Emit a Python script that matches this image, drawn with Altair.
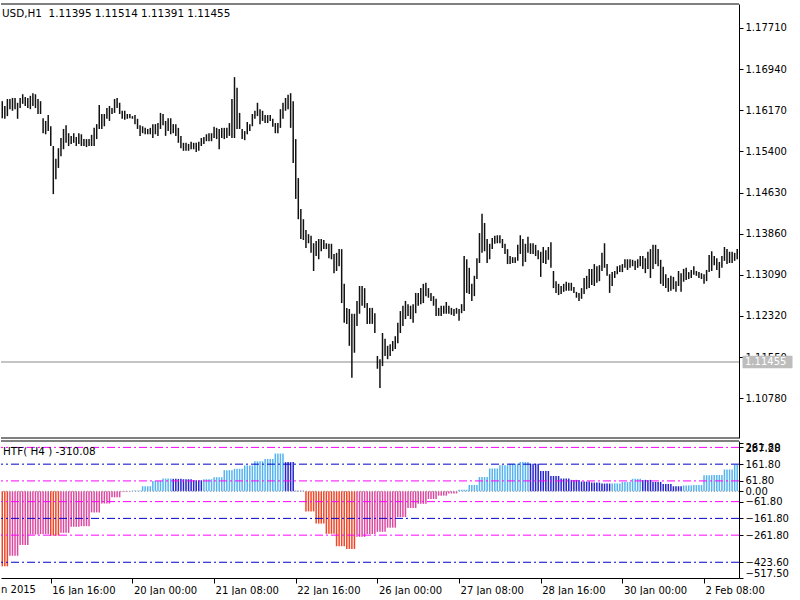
import altair as alt
import pandas as pd

# ---------------- data ----------------
bar_high = [
 1.1634,1.1625,1.1638,1.1638,1.1640,1.1640,1.1631,1.1640,1.1647,1.1642,
 1.1640,1.1644,1.1649,1.1647,1.1638,1.1634,1.1602,1.1597,1.1608,1.1587,
 1.1550,1.1526,1.1546,1.1565,1.1582,1.1589,1.1574,1.1569,1.1574,1.1567,
 1.1574,1.1572,1.1563,1.1563,1.1563,1.1571,1.1584,1.1591,1.1627,1.1610,
 1.1610,1.1621,1.1625,1.1621,1.1638,1.1640,1.1631,1.1616,1.1616,1.1610,
 1.1610,1.1606,1.1608,1.1601,1.1589,1.1587,1.1584,1.1582,1.1584,1.1591,
 1.1591,1.1593,1.1612,1.1610,1.1597,1.1602,1.1602,1.1591,1.1591,1.1584,
 1.1569,1.1556,1.1556,1.1554,1.1558,1.1556,1.1556,1.1558,1.1565,1.1567,
 1.1572,1.1574,1.1574,1.1586,1.1584,1.1582,1.1584,1.1584,1.1584,1.1593,
 1.1638,1.1679,1.1659,1.1612,1.1582,1.1578,1.1595,1.1591,1.1610,1.1616,
 1.1631,1.1619,1.1616,1.1608,1.1608,1.1608,1.1601,1.1593,1.1593,1.1619,
 1.1631,1.1640,1.1646,1.1649,1.1634,1.1563,1.1490,1.1432,1.1413,1.1393,
 1.1385,1.1382,1.1368,1.1372,1.1376,1.1376,1.1374,1.1368,1.1367,1.1367,
 1.1348,1.1350,1.1357,1.1357,1.1292,1.1247,1.1245,1.1236,1.1236,1.1260,
 1.1288,1.1288,1.1284,1.1256,1.1247,1.1247,1.1237,1.1157,1.1151,1.1200,
 1.1189,1.1176,1.1179,1.1185,1.1194,1.1219,1.1241,1.1251,1.1260,1.1254,
 1.1251,1.1254,1.1275,1.1275,1.1284,1.1292,1.1294,1.1284,1.1275,1.1269,
 1.1264,1.1247,1.1251,1.1251,1.1258,1.1251,1.1247,1.1245,1.1247,1.1245,
 1.1254,1.1344,1.1338,1.1322,1.1292,1.1307,1.1340,1.1387,1.1423,1.1406,
 1.1376,1.1367,1.1378,1.1382,1.1383,1.1383,1.1376,1.1367,1.1357,1.1344,
 1.1342,1.1342,1.1365,1.1383,1.1376,1.1367,1.1380,1.1368,1.1368,1.1365,
 1.1355,1.1352,1.1361,1.1355,1.1361,1.1370,1.1316,1.1297,1.1292,1.1288,
 1.1292,1.1296,1.1294,1.1294,1.1286,1.1277,1.1275,1.1284,1.1303,1.1307,
 1.1320,1.1320,1.1329,1.1325,1.1327,1.1350,1.1368,1.1329,1.1310,1.1314,
 1.1316,1.1325,1.1327,1.1329,1.1338,1.1338,1.1338,1.1337,1.1335,1.1338,
 1.1344,1.1344,1.1340,1.1352,1.1357,1.1365,1.1365,1.1357,1.1337,1.1324,
 1.1310,1.1303,1.1307,1.1305,1.1297,1.1316,1.1312,1.1320,1.1322,1.1314,
 1.1318,1.1325,1.1316,1.1314,1.1312,1.1310,1.1318,1.1346,1.1353,1.1344,
 1.1340,1.1333,1.1344,1.1361,1.1357,1.1352,1.1352,1.1350,1.1357]

bar_low = [
 1.1602,1.1601,1.1606,1.1619,1.1616,1.1619,1.1601,1.1621,1.1629,1.1625,
 1.1621,1.1619,1.1625,1.1621,1.1610,1.1610,1.1574,1.1572,1.1578,1.1550,
 1.1460,1.1488,1.1509,1.1531,1.1544,1.1556,1.1550,1.1554,1.1556,1.1550,
 1.1554,1.1550,1.1550,1.1548,1.1550,1.1550,1.1550,1.1563,1.1582,1.1582,
 1.1587,1.1601,1.1597,1.1610,1.1612,1.1621,1.1610,1.1601,1.1599,1.1601,
 1.1602,1.1601,1.1591,1.1582,1.1569,1.1574,1.1572,1.1572,1.1572,1.1565,
 1.1572,1.1569,1.1582,1.1589,1.1569,1.1578,1.1572,1.1574,1.1569,1.1556,
 1.1546,1.1541,1.1541,1.1541,1.1544,1.1544,1.1539,1.1541,1.1550,1.1554,
 1.1559,1.1559,1.1559,1.1565,1.1563,1.1544,1.1565,1.1563,1.1565,1.1569,
 1.1565,1.1565,1.1582,1.1582,1.1563,1.1561,1.1572,1.1578,1.1587,1.1601,
 1.1606,1.1591,1.1597,1.1593,1.1593,1.1597,1.1586,1.1574,1.1574,1.1584,
 1.1601,1.1616,1.1619,1.1584,1.1518,1.1451,1.1413,1.1376,1.1374,1.1359,
 1.1368,1.1350,1.1316,1.1344,1.1338,1.1353,1.1357,1.1357,1.1340,1.1338,
 1.1312,1.1316,1.1325,1.1256,1.1219,1.1217,1.1176,1.1116,1.1163,1.1213,
 1.1236,1.1251,1.1247,1.1217,1.1217,1.1217,1.1200,1.1133,1.1097,1.1138,
 1.1157,1.1151,1.1157,1.1166,1.1170,1.1181,1.1200,1.1213,1.1226,1.1232,
 1.1226,1.1219,1.1237,1.1251,1.1254,1.1256,1.1269,1.1266,1.1260,1.1251,
 1.1232,1.1232,1.1232,1.1236,1.1236,1.1236,1.1234,1.1232,1.1236,1.1223,
 1.1237,1.1241,1.1275,1.1273,1.1260,1.1269,1.1301,1.1331,1.1350,1.1353,
 1.1331,1.1338,1.1357,1.1367,1.1368,1.1368,1.1359,1.1348,1.1329,1.1329,
 1.1331,1.1331,1.1335,1.1348,1.1325,1.1333,1.1350,1.1348,1.1348,1.1344,
 1.1338,1.1305,1.1331,1.1329,1.1337,1.1322,1.1284,1.1275,1.1271,1.1273,
 1.1277,1.1279,1.1279,1.1279,1.1275,1.1266,1.1260,1.1264,1.1273,1.1282,
 1.1284,1.1290,1.1288,1.1294,1.1297,1.1316,1.1322,1.1307,1.1275,1.1288,
 1.1303,1.1310,1.1314,1.1314,1.1322,1.1318,1.1322,1.1325,1.1318,1.1322,
 1.1325,1.1320,1.1312,1.1320,1.1303,1.1320,1.1329,1.1325,1.1292,1.1288,
 1.1284,1.1277,1.1279,1.1282,1.1277,1.1288,1.1277,1.1296,1.1299,1.1301,
 1.1303,1.1309,1.1307,1.1303,1.1301,1.1292,1.1297,1.1314,1.1316,1.1327,
 1.1318,1.1303,1.1322,1.1335,1.1329,1.1331,1.1331,1.1335,1.1338]

# HTF(H4) histogram: one value per H4 block (4 H1 bars), with its colour state
htf_value = [
 -448, -385, -320, -258, -255, -265, -248, -212, -208, -126,
  -73,  -36,   -3,    4,   30,   62,   76,   74,   72,   66,
   72,   84,  126,  134,  154,  179,  193,  225,  174,    3,
 -120, -193, -254, -328, -344, -272, -255, -242, -217, -154,
 -100,  -75,  -46,  -26,  -13,    9,   38,   85,  136,  156,
  164,  174,  164,  121,   91,   76,   68,   58,   52,   46,
   47,   55,   74,   68,   56,   44,   30,   35,   37,   96,
   97,  130,  158]
htf_state = list(
 "RPPPPRPPPPPPPLLLLDDDLLLLLLLLDD"
 "RRRRRPPPPPPPPPPLLLLLLLDDDDDDDD"
 "LLLDDDDLLLLLL")

level_values = [261.8, 161.8, 61.8, -61.8, -161.8, -261.8, -423.6]
level_kind = ["m", "b", "m", "m", "b", "m", "b"]

price_ticks = [1.10780, 1.11550, 1.12320, 1.13090, 1.13860,
               1.14630, 1.15400, 1.16170, 1.16940, 1.17710]
price_range = [1.10034, 1.18159]
ind_ticks = [287.28, 261.8, 161.8, 61.8, 0.0, -61.8, -161.8, -261.8, -423.6, -517.5]
ind_range = [-517.5, 300.0]

time_ticks = [19, 51, 83, 115, 147, 179, 211, 243, 275]
time_labels = ["16 Jan 16:00", "20 Jan 00:00", "21 Jan 08:00", "22 Jan 16:00",
               "26 Jan 00:00", "27 Jan 08:00", "28 Jan 16:00", "30 Jan 00:00",
               "2 Feb 08:00"]
first_label = "n 2015"
x_range = [-0.5, 288.7]

last_price = 1.11455
header = "USD,H1\u00a0\u00a01.11395 1.11514 1.11391 1.11455"
ind_header = "HTF( H4 ) -310.08"

# ---------------- styling ----------------
FONT = "DejaVu Sans"
W, H1, H2 = 738, 434, 137
state_color = {"R": "#F04628", "P": "#DC4AA0", "L": "#55B4F0", "D": "#2626CC"}
level_color = {"m": "#FF00FF", "b": "#0000CD"}

n = len(bar_high)
bars = pd.DataFrame({"i": list(range(n)), "high": bar_high, "low": bar_low})
blk = [(i + 1) // 4 for i in range(n)]
hist = pd.DataFrame({
    "i": list(range(n)),
    "v": [htf_value[b] for b in blk],
    "z": [0] * n,
    "c": [state_color[htf_state[b]] for b in blk],
})
levels = pd.DataFrame({"v": level_values, "c": [level_color[k] for k in level_kind]})

xscale = alt.Scale(domain=x_range, nice=False, zero=False)

# ---------------- main price panel ----------------
py = alt.Y("high:Q", scale=alt.Scale(domain=price_range, nice=False, zero=False),
           axis=alt.Axis(orient="right", values=price_ticks, format=".5f", title=None,
                         grid=False, tickSize=4, labelPadding=2, domainColor="black",
                         tickColor="black", labelColor="black", labelFont=FONT,
                         labelFontSize=10, labelOverlap=False))

price_line = alt.Chart(pd.DataFrame({"high": [last_price]})).mark_rule(
    color="#C4C4C4", strokeWidth=2).encode(y=py)

price_bars = alt.Chart(bars).mark_rule(color="#111111", strokeWidth=1.5).encode(
    x=alt.X("i:Q", scale=xscale, axis=None), y=py, y2="low:Q")

box = alt.Chart(pd.DataFrame({"high": [last_price], "t": ["1.11455"]}))
price_box = box.mark_point(
    shape="M-1.8,-0.45L1.8,-0.45L1.8,0.45L-1.8,0.45Z", filled=True,
    color="#BDBDBD", opacity=1, size=773).encode(x=alt.value(766.5), y=py)
price_txt = box.mark_text(align="left", baseline="middle", font=FONT, fontSize=10,
                          color="white").encode(x=alt.value(744), y=py, text="t:N")

head = alt.Chart(pd.DataFrame({"t": [header]})).mark_text(
    align="left", baseline="middle", font=FONT, fontSize=10.4, color="black").encode(
    x=alt.value(1), y=alt.value(10), text="t:N")

frame_top = alt.Chart(pd.DataFrame({"a": [0]})).mark_rule(color="black", strokeWidth=1).encode(
    x=alt.value(0), x2=alt.value(W), y=alt.value(0))
frame_bot = alt.Chart(pd.DataFrame({"a": [0]})).mark_rule(color="black", strokeWidth=1).encode(
    x=alt.value(0), x2=alt.value(W), y=alt.value(H1))

main = alt.layer(price_line, price_bars, price_box, price_txt, head, frame_top, frame_bot
                 ).properties(width=W, height=H1)

# ---------------- indicator panel ----------------
label_expr = "[" + ",".join("'%s'" % s for s in time_labels) + "][indexof([" + \
    ",".join(str(t) for t in time_ticks) + "], datum.value)]"

iy = alt.Y("v:Q", scale=alt.Scale(domain=ind_range, nice=False, zero=False),
           axis=alt.Axis(orient="right", values=ind_ticks, format=".2f", title=None,
                         grid=False, tickSize=4, labelPadding=2, domainColor="black",
                         tickColor="black", labelColor="black", labelFont=FONT,
                         labelFontSize=10, labelOverlap=False,
                         labelBaseline={"condition": [
                             {"test": "datum.value < -500", "value": "bottom"},
                             {"test": "datum.value > 270", "value": "top"}],
                             "value": "middle"}))
ix = alt.X("i:Q", scale=xscale,
           axis=alt.Axis(values=time_ticks, labelExpr=label_expr, title=None, grid=False,
                         tickSize=5, labelPadding=2, labelAlign="left", labelBaseline="top",
                         labelOffset=1, domainColor="black", tickColor="black",
                         labelColor="black", labelFont=FONT, labelFontSize=10,
                         labelOverlap=False, labelFlush=False))

histo = alt.Chart(hist).mark_rule(strokeWidth=1.5).encode(
    x=ix, y=iy, y2="z:Q", color=alt.Color("c:N", scale=None))

lv = alt.Chart(levels).mark_rule(strokeWidth=1, strokeDash=[8, 3, 2, 3]).encode(
    y=iy, color=alt.Color("c:N", scale=None))

zero = alt.Chart(pd.DataFrame({"v": [0.0]})).mark_rule(
    color="#999999", strokeWidth=1, strokeDash=[1, 2]).encode(y=iy)

ihead = alt.Chart(pd.DataFrame({"t": [ind_header]})).mark_text(
    align="left", baseline="middle", font=FONT, fontSize=10.4, color="black").encode(
    x=alt.value(2), y=alt.value(11), text="t:N")

cut_lbl = alt.Chart(pd.DataFrame({"i": [x_range[0]], "t": [first_label]})).mark_text(
    align="left", baseline="top", font=FONT, fontSize=10, color="black").encode(
    x=alt.X("i:Q", scale=xscale), y=alt.value(H2 + 7), text="t:N")

iframe_top = alt.Chart(pd.DataFrame({"a": [0]})).mark_rule(color="black", strokeWidth=1).encode(
    x=alt.value(0), x2=alt.value(W), y=alt.value(0))

ind = alt.layer(histo, lv, zero, ihead, cut_lbl, iframe_top).properties(width=W, height=H2)

chart = alt.vconcat(main, ind, spacing=1).properties(
    padding={"left": 0, "top": 3, "right": 0, "bottom": 0},
    background="white",
).configure_view(stroke=None)

chart.save("out.html", embed_options={"renderer": "svg", "actions": False})
